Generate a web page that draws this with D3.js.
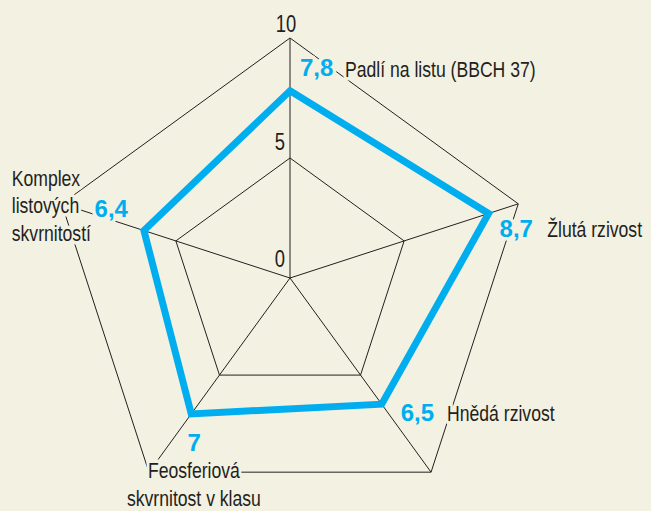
<!DOCTYPE html>
<meta charset="utf-8">
<style>
body { margin: 0; background: #f3f1e2; }
svg { display: block; }
text { font-family: "Liberation Sans", Arial, sans-serif; fill: #231f20; }
.halo { paint-order: stroke; stroke: #f3f1e2; stroke-width: 7px; stroke-linejoin: round; }
.grid { fill: none; stroke: #231f20; stroke-width: 1px; }
.area { fill: none; stroke: #00aeef; stroke-width: 7px; stroke-linejoin: miter; }
.val { fill: #00aeef; font-weight: bold; font-size: 24px; }
.cat { font-size: 22px; }
.tick { font-size: 23px; }
</style>
<body>
<script src="https://d3js.org/d3.v7.min.js"></script>
<script>

// data
var categories = [
  ["Padlí na listu (BBCH 37)"],
  ["Žlutá rzivost"],
  ["Hnědá rzivost"],
  ["Feosferiová", "skvrnitost v klasu"],
  ["Komplex", "listových", "skvrnitostí"]
];
var values = [7.8, 8.7, 6.5, 7, 6.4];
var valueLabels = ["7,8", "8,7", "6,5", "7", "6,4"];
var levels = [0, 5, 10];

var width = 651, height = 511,
    cx = 290, cy = 278, radius = 240,
    narrow = 0.8; // condensed look

var r = d3.scaleLinear().domain([0, 10]).range([0, radius]);
var angle = d3.scaleLinear().domain([0, categories.length]).range([0, 2 * Math.PI]);

function pt(i, v) {
  var a = angle(i);
  return [cx + r(v) * Math.sin(a), cy - r(v) * Math.cos(a)];
}

var svg = d3.select("body").append("svg")
    .attr("width", width)
    .attr("height", height);

var line = d3.line().curve(d3.curveLinearClosed);
var idx = d3.range(categories.length);

// grid pentagons
svg.selectAll(".lvl")
    .data(levels.filter(function(l) { return l > 0; }))
  .enter().append("path")
    .attr("class", "grid")
    .attr("d", function(l) { return line(idx.map(function(i) { return pt(i, l); })); });

// spokes
svg.selectAll(".spoke")
    .data(idx)
  .enter().append("line")
    .attr("class", "grid")
    .attr("x1", cx).attr("y1", cy)
    .attr("x2", function(i) { return pt(i, 10)[0]; })
    .attr("y2", function(i) { return pt(i, 10)[1]; });

// level labels on the top axis
var tickOff = {0: [-5, -11, "end"], 5: [-5, -8, "end"], 10: [-4, -6, "middle"]};
svg.selectAll(".tick")
    .data(levels)
  .enter().append("g")
    .attr("transform", function(l) {
      return "translate(" + (pt(0, l)[0] + tickOff[l][0]) + "," + (pt(0, l)[1] + tickOff[l][1]) + ") scale(" + narrow + ",1)";
    })
  .append("text")
    .attr("class", "tick")
    .attr("text-anchor", function(l) { return tickOff[l][2]; })
    .text(function(l) { return l; });

// value polygon
svg.append("path")
    .attr("class", "area")
    .attr("d", line(values.map(function(v, i) { return pt(i, v); })));

// label offsets relative to the value vertex / outer vertex
var valOff = [[10, -15, "start"], [11, 24, "start"], [19, 17, "start"], [3, 37, "middle"], [-16, -14, "end"]];

svg.selectAll(".val")
    .data(values)
  .enter().append("text")
    .attr("class", "val halo")
    .attr("text-anchor", function(d, i) { return valOff[i][2]; })
    .attr("x", function(d, i) { return pt(i, d)[0] + valOff[i][0]; })
    .attr("y", function(d, i) { return pt(i, d)[1] + valOff[i][1]; })
    .text(function(d, i) { return valueLabels[i]; });

var catOff = [[55, 39, "start"], [29, 33, "start"], [16, -51, "start"], [45, 6, "middle"], [-50, -18, "start"]];

var cat = svg.selectAll(".cat")
    .data(categories)
  .enter().append("g")
    .attr("transform", function(d, i) {
      return "translate(" + (pt(i, 10)[0] + catOff[i][0]) + "," + (pt(i, 10)[1] + catOff[i][1]) + ") scale(" + narrow + ",1)";
    })
  .append("text")
    .attr("class", "cat halo")
    .attr("text-anchor", function(d, i) { return catOff[i][2]; });

cat.selectAll("tspan")
    .data(function(d) { return d; })
  .enter().append("tspan")
    .attr("x", 0)
    .attr("dy", function(d, j) { return j === 0 ? 0 : 27.5; })
    .text(function(d) { return d; });

</script>
</body>
